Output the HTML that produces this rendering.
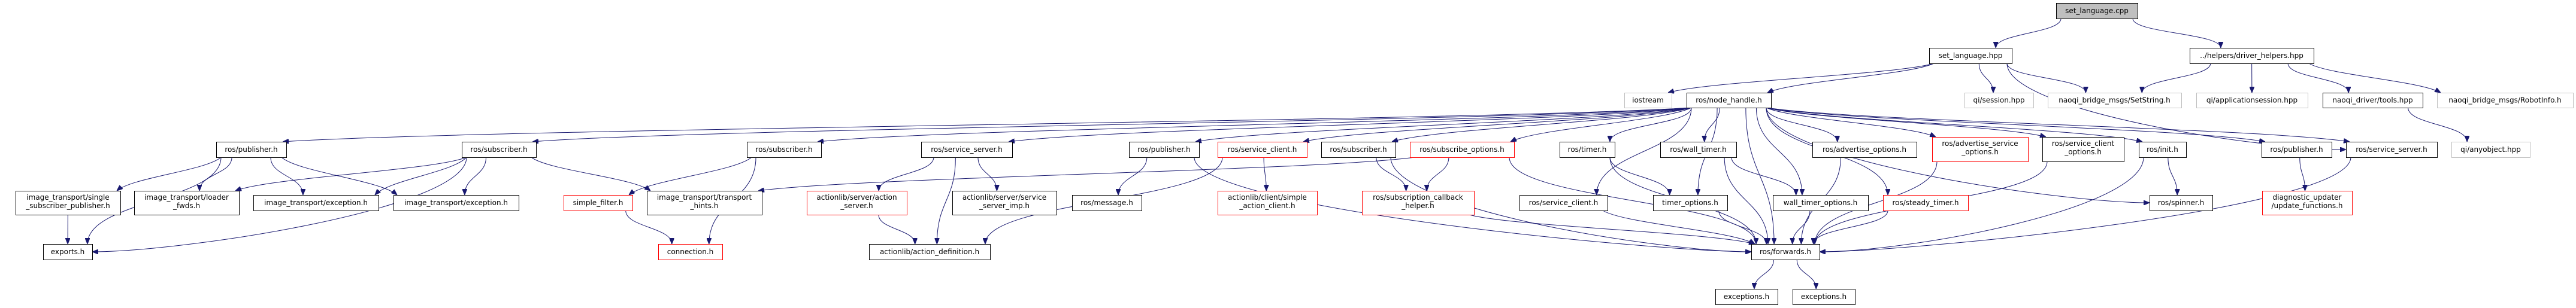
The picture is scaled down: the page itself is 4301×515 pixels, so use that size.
<!DOCTYPE html>
<html><head><meta charset="utf-8"><style>
html,body{margin:0;padding:0;background:#fff;}
svg{display:block;}
text{font-family:"DejaVu Sans","Liberation Sans",sans-serif;font-size:12px;fill:#000;}
</style></head><body>
<svg id="g" width="4301" height="515" xmlns="http://www.w3.org/2000/svg">
<defs><marker id="a" markerWidth="10" markerHeight="8" refX="10" refY="4" orient="auto" markerUnits="userSpaceOnUse"><path d="M0,0 L10,4 L0,8 z" fill="#191970" stroke="#191970"/></marker></defs>
<g id="edges" fill="none" stroke="#191970" stroke-width="1"></g>
<g id="nodes"></g>
</svg>
<div style="display:none">
set_language.cpp set_language.hpp ../helpers/driver_helpers.hpp iostream ros/node_handle.h qi/session.hpp naoqi_bridge_msgs/SetString.h qi/applicationsession.hpp naoqi_driver/tools.hpp naoqi_bridge_msgs/RobotInfo.h
</div>
<script>
var N={
cpp:[3433,3569,5,31,"g",["set_language.cpp"]],
hpp:[3221,3359,80,106,"b",["set_language.hpp"]],
dh:[3656,3863,80,106,"b",["../helpers/driver_helpers.hpp"]],
ios:[2712,2791,155,180,"l",["iostream"]],
nh:[2816,2957,155,180,"b",["ros/node_handle.h"]],
qis:[3280,3395,155,180,"l",["qi/session.hpp"]],
ss:[3419,3642,155,180,"l",["naoqi_bridge_msgs/SetString.h"]],
app:[3667,3853,155,180,"l",["qi/applicationsession.hpp"]],
tools:[3878,4045,155,180,"b",["naoqi_driver/tools.hpp"]],
robot:[4069,4296,155,180,"l",["naoqi_bridge_msgs/RobotInfo.h"]],
pub1:[361,478,237,263,"b",["ros/publisher.h"]],
sub1:[771,895,237,263,"b",["ros/subscriber.h"]],
sub2:[1247,1371,237,263,"b",["ros/subscriber.h"]],
srv1:[1538,1690,237,263,"b",["ros/service_server.h"]],
pub2:[1885,2002,237,263,"b",["ros/publisher.h"]],
sc1:[2033,2182,237,263,"r",["ros/service_client.h"]],
sub3:[2206,2330,237,263,"b",["ros/subscriber.h"]],
subopt:[2354,2528,237,263,"r",["ros/subscribe_options.h"]],
timer:[2604,2696,237,263,"b",["ros/timer.h"]],
wtimer:[2772,2899,237,263,"b",["ros/wall_timer.h"]],
advopt:[3026,3200,237,263,"b",["ros/advertise_options.h"]],
advsrv:[3226,3386,229,270,"r",["ros/advertise_service","_options.h"]],
scopt:[3410,3546,229,270,"b",["ros/service_client","_options.h"]],
init:[3571,3650,237,263,"b",["ros/init.h"]],
pub3:[3776,3893,237,263,"b",["ros/publisher.h"]],
srv2:[3917,4069,237,263,"b",["ros/service_server.h"]],
any:[4093,4224,237,263,"l",["qi/anyobject.hpp"]],
sspub:[26,201,319,359,"b",["image_transport/single","_subscriber_publisher.h"]],
loader:[224,399,319,359,"b",["image_transport/loader","_fwds.h"]],
exc1:[423,632,326,352,"b",["image_transport/exception.h"]],
exc2:[657,866,326,352,"b",["image_transport/exception.h"]],
sf:[941,1056,326,352,"r",["simple_filter.h"]],
hints:[1080,1272,319,359,"b",["image_transport/transport","_hints.h"]],
actsrv:[1347,1514,319,359,"r",["actionlib/server/action","_server.h"]],
srvimp:[1590,1764,319,359,"b",["actionlib/server/service","_server_imp.h"]],
msg:[1790,1906,326,352,"b",["ros/message.h"]],
sac:[2033,2199,319,359,"r",["actionlib/client/simple","_action_client.h"]],
sch:[2274,2461,319,359,"r",["ros/subscription_callback","_helper.h"]],
sc2:[2537,2684,326,352,"b",["ros/service_client.h"]],
topt:[2760,2884,326,352,"b",["timer_options.h"]],
wtopt:[2960,3119,326,352,"b",["wall_timer_options.h"]],
steady:[3144,3286,326,352,"r",["ros/steady_timer.h"]],
spin:[3589,3694,326,352,"b",["ros/spinner.h"]],
diag:[3777,3927,319,359,"r",["diagnostic_updater","/update_functions.h"]],
exports:[72,154,408,434,"b",["exports.h"]],
conn:[1099,1206,408,434,"r",["connection.h"]],
actdef:[1451,1653,408,434,"b",["actionlib/action_definition.h"]],
fwd:[2924,3038,408,434,"b",["ros/forwards.h"]],
exc3:[2864,2968,483,509,"b",["exceptions.h"]],
exc4:[2993,3097,483,509,"b",["exceptions.h"]]
};
var E="cpp hpp,cpp dh,hpp ios,hpp nh,hpp qis,hpp ss,hpp srv2,dh ss,dh app,dh tools,dh robot,tools any,"+
"nh pub1,nh sub1,nh sub2,nh srv1,nh pub2,nh sc1,nh sub3,nh subopt,nh timer,nh wtimer,nh advopt,nh advsrv,nh scopt,nh init,nh pub3,nh srv2,nh sc2,nh topt,nh wtopt,nh steady,nh spin,nh fwd,"+
"pub1 sspub,pub1 loader,pub1 exc1,pub1 exc2,pub1 exports,sub1 loader,sub1 exc1,sub1 exc2,sub1 hints,sub1 exports,sspub exports,"+
"sub2 sf,sub2 conn,sf conn,srv1 actsrv,srv1 actdef,srv1 srvimp,actsrv actdef,pub2 msg,pub2 fwd,sc1 actdef,sc1 sac,"+
"subopt hints,subopt sch,subopt fwd,sub3 sch,sub3 fwd,sch fwd,sc2 fwd,timer topt,timer fwd,wtimer wtopt,wtimer fwd,topt fwd,wtopt fwd,steady fwd,"+
"advopt fwd,advsrv fwd,scopt fwd,init fwd,init spin,srv2 fwd,pub3 diag,fwd exc3,fwd exc4";
var ns="http://www.w3.org/2000/svg",eg=document.getElementById("edges"),ng=document.getElementById("nodes");
function cl(v,a,b){return Math.max(a,Math.min(b,v));}
E.split(",").forEach(function(p){var q=p.split(" "),s=N[q[0]],t=N[q[1]];
var scx=(s[0]+s[1])/2,tcx=(t[0]+t[1])/2,sy=s[3],ty=t[2];
var sx=cl(scx+(tcx-scx)*0.3,s[0]+8,s[1]-8),tx=cl(tcx+(scx-tcx)*0.2,t[0]+8,t[1]-8);
var d,dy=ty-sy,far=Math.abs(tx-sx)>3*dy;
if(far&&dy>100){var left=tx<sx,side=left?t[1]:t[0];var my=(t[2]+t[3])/2;
 d="M"+sx+","+sy+" C"+sx+","+(sy+dy*0.6)+" "+(side+(left?150:-150))+","+my+" "+side+","+my;}
else if(far){var left2=tx<sx;tx=left2?t[1]-6:t[0]+6;
 d="M"+sx+","+sy+" C"+(sx+(tx-sx)*0.15)+","+(sy+dy*0.4)+" "+(tx+(sx-tx)*0.15)+","+(ty-dy*0.4)+" "+tx+","+ty;}
else d="M"+sx+","+sy+" C"+sx+","+(sy+dy*0.5)+" "+tx+","+(ty-dy*0.5)+" "+tx+","+ty;
var e=document.createElementNS(ns,"path");e.setAttribute("d",d);e.setAttribute("marker-end","url(#a)");eg.appendChild(e);});
for(var k in N){var n=N[k],r=document.createElementNS(ns,"rect");
r.setAttribute("x",n[0]+.5);r.setAttribute("y",n[2]+.5);r.setAttribute("width",n[1]-n[0]);r.setAttribute("height",n[3]-n[2]);
r.setAttribute("fill",n[4]=="g"?"#bfbfbf":"#fff");r.setAttribute("stroke",n[4]=="r"?"#ff0000":n[4]=="l"?"#bfbfbf":"#000");ng.appendChild(r);
var cx=(n[0]+n[1])/2,L=n[5];for(var i=0;i<L.length;i++){var t=document.createElementNS(ns,"text");
t.setAttribute("x",cx);t.setAttribute("text-anchor","middle");
t.setAttribute("y",L.length==1?(n[2]+n[3])/2+4:n[2]+15+i*14);t.textContent=L[i];ng.appendChild(t);}}
</script>
</body></html>
